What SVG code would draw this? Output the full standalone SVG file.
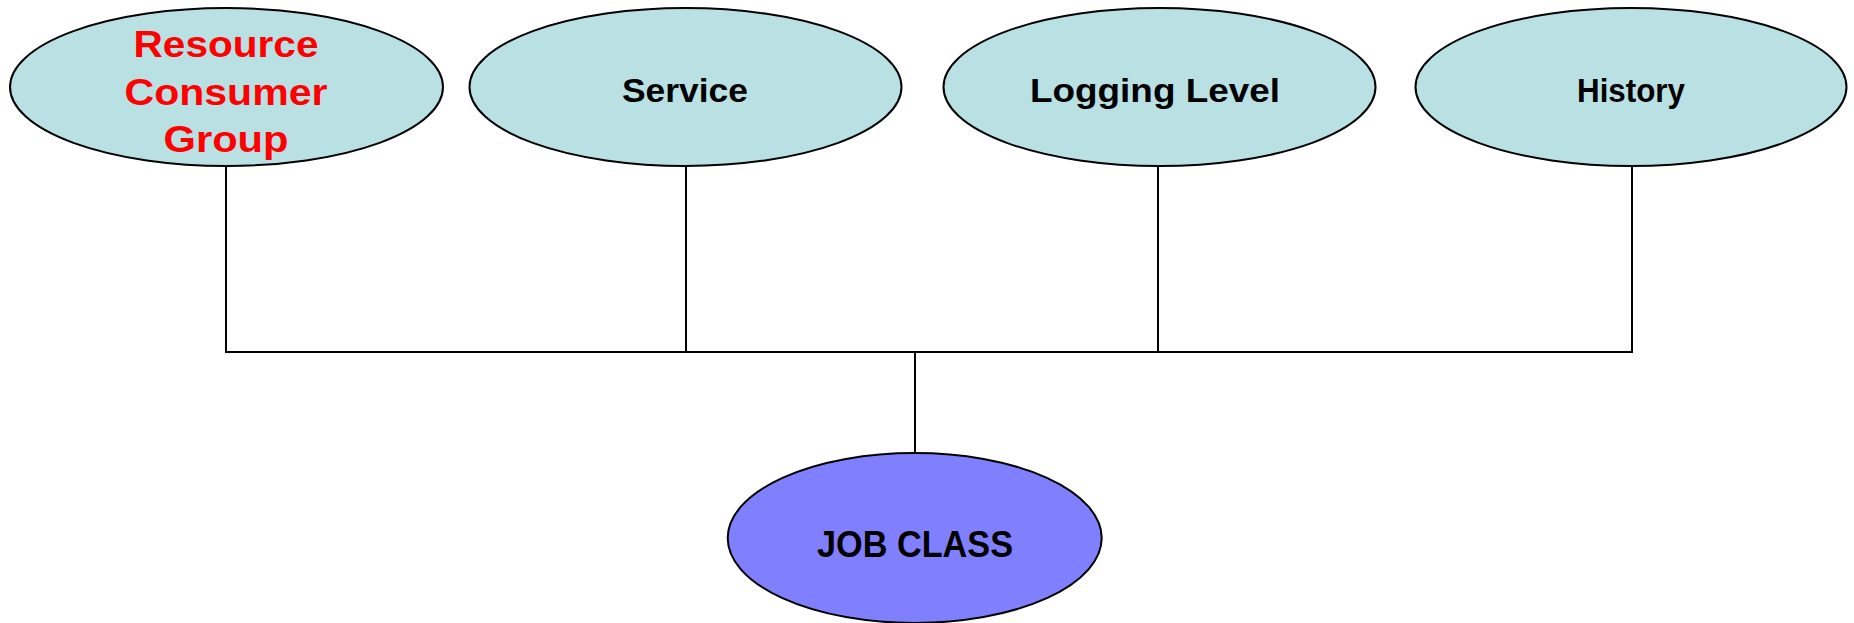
<svg xmlns="http://www.w3.org/2000/svg" width="1854" height="623" viewBox="0 0 1854 623">
<style>
.top{fill:#B9E0E3;stroke:#000;stroke-width:2}
.job{fill:#8080FF;stroke:#000;stroke-width:2}
.lbl{font-family:"Liberation Sans",Arial,sans-serif;font-weight:bold;text-anchor:middle;fill:#000}
.red{fill:#FF0000;font-size:37px}
.conn{stroke:#000;stroke-width:2;fill:none}
</style>
<rect width="1854" height="623" fill="#fff"/>
<g id="connectors">
<line class="conn" x1="226" y1="166" x2="226" y2="352"/>
<line class="conn" x1="686" y1="166" x2="686" y2="352"/>
<line class="conn" x1="1158" y1="166" x2="1158" y2="352"/>
<line class="conn" x1="1632" y1="166" x2="1632" y2="352"/>
<line class="conn" x1="225" y1="352" x2="1633" y2="352"/>
<line class="conn" x1="915" y1="352" x2="915" y2="453"/>
</g>
<g id="resource">
<ellipse class="top" cx="226.5" cy="87" rx="216.5" ry="79"/>
<text class="lbl red" x="226" y="57" textLength="185" lengthAdjust="spacingAndGlyphs">Resource</text>
<text class="lbl red" x="226" y="105" textLength="203" lengthAdjust="spacingAndGlyphs">Consumer</text>
<text class="lbl red" x="226" y="152" textLength="125" lengthAdjust="spacingAndGlyphs">Group</text>
</g>
<g id="service">
<ellipse class="top" cx="685.5" cy="87" rx="216" ry="79"/>
<text class="lbl" x="685" y="102" font-size="33" textLength="126" lengthAdjust="spacingAndGlyphs">Service</text>
</g>
<g id="logging">
<ellipse class="top" cx="1159.5" cy="87" rx="216" ry="79"/>
<text class="lbl" x="1155" y="102" font-size="33" textLength="250" lengthAdjust="spacingAndGlyphs">Logging Level</text>
</g>
<g id="history">
<ellipse class="top" cx="1631" cy="87" rx="215.5" ry="79"/>
<text class="lbl" x="1631" y="102" font-size="33" textLength="108" lengthAdjust="spacingAndGlyphs">History</text>
</g>
<g id="jobclass">
<ellipse class="job" cx="914.7" cy="538" rx="187" ry="85"/>
<text class="lbl" x="915" y="557" font-size="37" textLength="196" lengthAdjust="spacingAndGlyphs">JOB CLASS</text>
</g>
</svg>
